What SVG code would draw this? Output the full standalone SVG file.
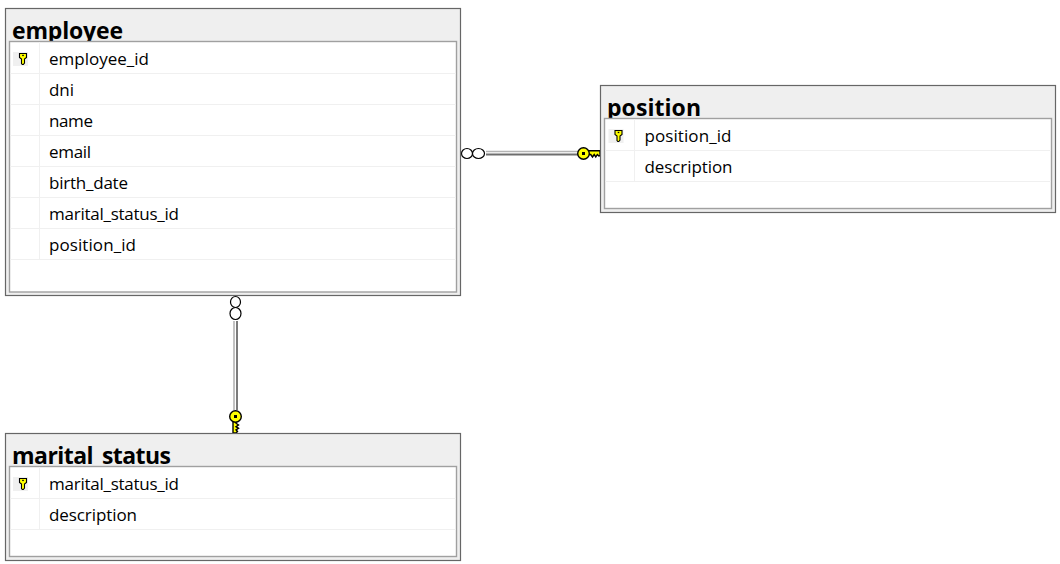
<svg xmlns="http://www.w3.org/2000/svg" width="1060" height="564" viewBox="0 0 1060 564">
<style>
text{font-family:"Open Sans","Noto Sans","Liberation Sans",sans-serif;fill:#000}
.outer{fill:#efefef;stroke:#666;stroke-width:1.2}
.inner{fill:#fff;stroke:#a0a0a0;stroke-width:1.4}
.title{font-size:23px;font-weight:700}
.row{font-size:17px}
.sep{stroke:#f0f0f0;stroke-width:1;fill:none}
.keybg{fill:#f0f0f0}
.lite{stroke:#b4b4b4;stroke-width:1.6;fill:none}
.dark{stroke:#6e6e6e;stroke-width:1.8;fill:none}
.o{fill:#fff;stroke:#000;stroke-width:1.2}
.kf{fill:#ffff00;stroke:#000;stroke-width:1.4}
</style>
<defs>
<g id="pk"><rect class="keybg" x="-10" y="-6.500" width="15" height="14"/><path fill="#ffff00" stroke="#000" stroke-width="1.100" d="M-3.500-5h7v4l-2 1.500v4l-1.200 1.500h-1l-.8-1v-4.500l-2-1.500z"/><rect x="-.8" y="-3.700" width="1.600" height="1.300" fill="#000"/></g>
</defs>
<g id="connectors">
<g id="conn-employee-position">
<path class="lite" d="M486 151.500H578"/><path class="dark" d="M486 154.500H578"/>
<ellipse class="o" cx="467" cy="153.500" rx="5.500" ry="5"/><ellipse class="o" cx="478.500" cy="153.500" rx="6" ry="5"/>
<path class="kf" d="M587 150.800h13v2.700l.5 1-1.500 1.500-1.700-1.500-1.500 2.500-1.600-2.500-1.700 2.500-1.800-2.500h-3.700z"/>
<circle class="kf" cx="583.500" cy="153.500" r="5.800"/><rect x="582" y="152" width="3" height="3" fill="#000"/>
</g>
<g id="conn-employee-marital">
<path class="lite" d="M234 321V410"/><path class="dark" d="M237 321V410"/>
<ellipse class="o" cx="235.500" cy="302" rx="5" ry="5.500"/><ellipse class="o" cx="235.500" cy="313.500" rx="5.500" ry="6"/>
<path class="kf" d="M233 420v13h3l1.500-1.500-1.500-1.700 2.500-1.500-2.500-1.600 2.500-1.700-2.500-1.800v-3.200z"/>
<circle class="kf" cx="235.500" cy="416.500" r="5.800"/><rect x="234" y="415" width="3" height="3" fill="#000"/>
</g>
</g>
<g id="employee">
<rect class="outer" x="5.500" y="8.500" width="455" height="287"/>
<text class="title" x="12" y="39" textLength="111">employee</text>
<rect class="inner" x="9.500" y="41.500" width="447" height="250.500"/>
<path class="sep" d="M39.500 42V260M10 73.500H456M10 104.500H456M10 135.500H456M10 166.500H456M10 197.500H456M10 228.500H456M10 259.500H456"/>
<use href="#pk" x="23" y="58.500"/>
<text class="row" x="49" y="65" textLength="100">employee_id</text>
<text class="row" x="49" y="96" textLength="25">dni</text>
<text class="row" x="49" y="127" textLength="44">name</text>
<text class="row" x="49" y="158" textLength="42">email</text>
<text class="row" x="49" y="189" textLength="79">birth_date</text>
<text class="row" x="49" y="220" textLength="130">marital_status_id</text>
<text class="row" x="49" y="251" textLength="87">position_id</text>
</g>
<g id="position">
<rect class="outer" x="600.500" y="85.500" width="455" height="127"/>
<text class="title" x="607" y="116" textLength="94">position</text>
<rect class="inner" x="604.500" y="118.500" width="447" height="90"/>
<path class="sep" d="M634.500 119V182M605 150.500H1051M605 181.500H1051"/>
<use href="#pk" x="618.500" y="135.500"/>
<text class="row" x="644.500" y="142" textLength="87">position_id</text>
<text class="row" x="644.500" y="173" textLength="88">description</text>
</g>
<g id="marital_status">
<rect class="outer" x="5.500" y="433.500" width="455" height="127"/>
<text class="title" x="12" y="464" textLength="159">marital_status</text>
<rect class="inner" x="9.500" y="466.500" width="447" height="90"/>
<path class="sep" d="M39.500 467V530M10 498.500H456M10 529.500H456"/>
<use href="#pk" x="23" y="483.500"/>
<text class="row" x="49" y="490" textLength="130">marital_status_id</text>
<text class="row" x="49" y="521" textLength="88">description</text>
</g>
</svg>
